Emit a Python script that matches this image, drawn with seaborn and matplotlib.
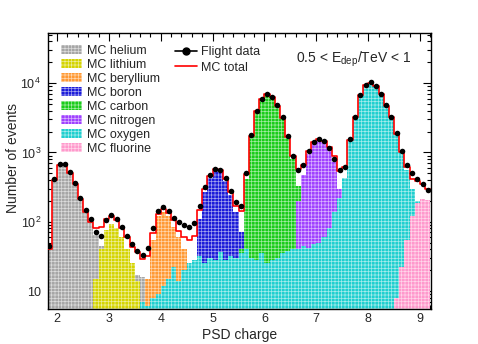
import numpy as np
import pandas as pd
import matplotlib
matplotlib.use("Agg")
import matplotlib.pyplot as plt
import seaborn as sns
from matplotlib.patches import Patch
from matplotlib.lines import Line2D
from matplotlib.ticker import MultipleLocator, LogLocator, FuncFormatter, NullFormatter

# ---------------- data (bins of 0.1 in PSD charge, 1.8 .. 9.2) ----------------
charge_range = (1.8, 9.2)
n_bins = 74
centers = np.round(np.linspace(1.85, 9.15, n_bins), 3)

flight_data = [
    45, 420, 680, 680, 530, 360, 220, 150, 110, 72,          # 1.85-2.75
    62, 105, 125, 110, 85, 62, 48, 38, 33, 42,               # 2.85-3.75
    80, 145, 165, 145, 115, 100, 90, 85, 95, 170,            # 3.85-4.75
    320, 480, 580, 560, 430, 280, 190, 170, 500, 1800,       # 4.85-5.75
    4000, 6000, 7000, 6300, 4800, 3200, 1700, 900, 560, 650, # 5.85-6.75
    1050, 1400, 1550, 1450, 1150, 800, 560, 620, 1550, 3300, # 6.85-7.75
    6800, 9500, 10500, 9200, 7000, 4800, 3300, 1900, 1050, 650,  # 7.85-8.75
    500, 420, 350, 290]                                      # 8.85-9.15

mc_helium = [
    40, 400, 650, 650, 510, 345, 210, 140, 100, 65,
    45, 35, 28, 24, 22, 20, 18, 17, 16, 9,
    5, 0, 0, 0, 0, 0, 0, 0, 0, 0,
    0, 0, 0, 0, 0, 0, 0, 0, 0, 0,
    0, 0, 0, 0, 0, 0, 0, 0, 0, 0,
    0, 0, 0, 0, 0, 0, 0, 0, 0, 0,
    0, 0, 0, 0, 0, 0, 0, 0, 0, 0,
    0, 0, 0, 0]

mc_lithium = [
    0, 0, 0, 0, 0, 0, 0, 0, 0, 15,
    40, 75, 92, 82, 60, 40, 25, 14, 6, 2,
    0, 0, 0, 0, 0, 0, 0, 0, 0, 0,
    0, 0, 0, 0, 0, 0, 0, 0, 0, 0,
    0, 0, 0, 0, 0, 0, 0, 0, 0, 0,
    0, 0, 0, 0, 0, 0, 0, 0, 0, 0,
    0, 0, 0, 0, 0, 0, 0, 0, 0, 0,
    0, 0, 0, 0]

mc_beryllium = [
    0, 0, 0, 0, 0, 0, 0, 0, 0, 0,
    0, 0, 0, 0, 0, 0, 0, 0, 0, 15,
    55, 120, 140, 120, 85, 60, 40, 22, 10, 4,
    0, 0, 0, 0, 0, 0, 0, 0, 0, 0,
    0, 0, 0, 0, 0, 0, 0, 0, 0, 0,
    0, 0, 0, 0, 0, 0, 0, 0, 0, 0,
    0, 0, 0, 0, 0, 0, 0, 0, 0, 0,
    0, 0, 0, 0]

mc_boron = [
    0, 0, 0, 0, 0, 0, 0, 0, 0, 0,
    0, 0, 0, 0, 0, 0, 0, 0, 0, 0,
    0, 0, 0, 0, 0, 0, 0, 8, 25, 110,
    270, 430, 540, 520, 390, 240, 140, 70, 30, 14,
    7, 3, 0, 0, 0, 0, 0, 0, 0, 0,
    0, 0, 0, 0, 0, 0, 0, 0, 0, 0,
    0, 0, 0, 0, 0, 0, 0, 0, 0, 0,
    0, 0, 0, 0]

mc_carbon = [
    0, 0, 0, 0, 0, 0, 0, 0, 0, 0,
    0, 0, 0, 0, 0, 0, 0, 0, 0, 0,
    0, 0, 0, 0, 0, 0, 0, 0, 0, 0,
    0, 0, 0, 0, 0, 0, 0, 40, 420, 1700,
    3900, 5900, 6900, 6200, 4700, 3100, 1600, 800, 330, 130,
    55, 30, 22, 18, 16, 14, 13, 12, 11, 10,
    9, 8, 7, 6, 0, 0, 0, 0, 0, 0,
    0, 0, 0, 0]

mc_nitrogen = [
    0, 0, 0, 0, 0, 0, 0, 0, 0, 0,
    0, 0, 0, 0, 0, 0, 0, 0, 0, 0,
    0, 0, 0, 0, 0, 0, 0, 0, 0, 0,
    0, 0, 0, 0, 0, 0, 0, 0, 0, 0,
    0, 0, 0, 0, 0, 0, 8, 40, 200, 480,
    950, 1330, 1500, 1400, 1100, 740, 300, 180, 70, 35,
    20, 15, 12, 10, 9, 8, 0, 0, 0, 0,
    0, 0, 0, 0]

mc_oxygen = [
    0, 0, 0, 0, 0, 0, 0, 0, 0, 0,
    0, 0, 0, 0, 0, 0, 0, 5, 7, 6,
    8, 9, 12, 15, 22, 14, 20, 25, 28, 32,
    25, 30, 28, 36, 28, 32, 30, 35, 40, 30,
    28, 35, 25, 28, 30, 35, 38, 40, 40, 45,
    42, 48, 50, 60, 80, 140, 220, 430, 1450, 3200,
    6700, 9400, 10200, 9100, 6900, 4700, 3200, 1850, 1000, 560,
    300, 200, 130, 90]

mc_fluorine = [
    0, 0, 0, 0, 0, 0, 0, 0, 0, 0,
    0, 0, 0, 0, 0, 0, 0, 0, 0, 0,
    0, 0, 0, 0, 0, 0, 0, 0, 0, 0,
    0, 0, 0, 0, 0, 0, 0, 0, 0, 0,
    0, 0, 0, 0, 0, 0, 0, 0, 0, 0,
    0, 0, 0, 0, 0, 0, 0, 0, 0, 0,
    0, 0, 0, 0, 0, 0, 3, 8, 22, 55,
    120, 185, 215, 205]

species_labels = ["MC helium", "MC lithium", "MC beryllium", "MC boron",
                  "MC carbon", "MC nitrogen", "MC oxygen", "MC fluorine"]
species_values = [mc_helium, mc_lithium, mc_beryllium, mc_boron,
                  mc_carbon, mc_nitrogen, mc_oxygen, mc_fluorine]
species_colors = ["#a6a6a6", "#d4d400", "#ff9933", "#1a1ad9",
                  "#19cc19", "#9f40ff", "#1fcfcf", "#ff99cc"]

mc_total = np.sum(np.array(species_values, dtype=float), axis=0)

# ---------------- style ----------------
sns.set_theme(style="ticks")
plt.rcParams["font.family"] = ["Liberation Sans", "DejaVu Sans"]
plt.rcParams["mathtext.fontset"] = "custom"
plt.rcParams["mathtext.rm"] = "Liberation Sans"
plt.rcParams["mathtext.it"] = "Liberation Sans:italic"
plt.rcParams["mathtext.bf"] = "Liberation Sans:bold"
plt.rcParams["hatch.linewidth"] = 0.5

fig = plt.figure(figsize=(4.78, 3.44), dpi=100)
ax = fig.add_axes([48 / 478, 35 / 344, 383 / 478, 276 / 344])

HATCH = "+++++"
HATCH_COLOR = (1, 1, 1, 0.6)
for vals, col in zip(species_values, species_colors):
    df = pd.DataFrame({"charge": centers, "events": np.asarray(vals, dtype=float)})
    sns.histplot(data=df, x="charge", weights="events", bins=n_bins,
                 binrange=charge_range, element="step", fill=True, color=col,
                 alpha=1.0, linewidth=0, ax=ax)
    coll = ax.collections[-1]
    coll.set_facecolor(col)
    coll.set_edgecolor(HATCH_COLOR)
    coll.set_hatch(HATCH)
    coll.set_linewidth(0)

df_tot = pd.DataFrame({"charge": centers, "events": mc_total})
sns.histplot(data=df_tot, x="charge", weights="events", bins=n_bins,
             binrange=charge_range, element="step", fill=False, color="#ff0000",
             linewidth=1.2, ax=ax, zorder=3)

df_data = pd.DataFrame({"charge": centers, "events": np.asarray(flight_data, dtype=float)})
sns.scatterplot(data=df_data, x="charge", y="events", color="black", s=16,
                linewidth=0, ax=ax, zorder=4, legend=False)

ax.set_yscale("log")
ax.set_xlim(1.826, 9.212)
ax.set_ylim(5.5, 5.3e4)

ax.xaxis.set_major_locator(MultipleLocator(1))
ax.xaxis.set_minor_locator(MultipleLocator(0.2))
ax.yaxis.set_major_locator(LogLocator(base=10, numticks=10))
ax.yaxis.set_minor_locator(LogLocator(base=10, subs=np.arange(2, 10), numticks=20))
ax.yaxis.set_minor_formatter(NullFormatter())


def yfmt(v, pos):
    e = int(round(np.log10(v)))
    return "10" if e == 1 else "$10^{%d}$" % e


ax.yaxis.set_major_formatter(FuncFormatter(yfmt))
ax.tick_params(which="both", direction="in", top=True, right=True,
               color="black", labelsize=9, width=0.8)
ax.tick_params(which="major", length=6)
ax.tick_params(which="minor", length=3)
ax.tick_params(axis="x", pad=3)
ax.tick_params(axis="y", pad=5)
for sp in ax.spines.values():
    sp.set_linewidth(1.0)
    sp.set_color("black")

ax.set_xlabel("PSD charge", fontsize=10)
ax.xaxis.set_label_coords(0.5, -0.094)
ax.xaxis.label.set_verticalalignment("center")
ax.set_ylabel("Number of events", fontsize=10)
ax.yaxis.set_label_coords(-0.091, 0.547)
ax.yaxis.label.set_verticalalignment("center")

# legend of MC species
handles1 = [Patch(facecolor=c, edgecolor=HATCH_COLOR, hatch=HATCH, linewidth=0)
            for c in species_colors]
leg1 = fig.legend(handles1, species_labels, loc="upper left",
                  bbox_to_anchor=(61 / 478, 1 - 45 / 344), frameon=False,
                  fontsize=9, borderpad=0, borderaxespad=0, labelspacing=0.16,
                  handlelength=1.7, handleheight=0.75, handletextpad=0.4)

handles2 = [Line2D([0], [0], color="black", marker="o", markersize=5, lw=1.2),
            Line2D([0], [0], color="#ff0000", lw=1.2)]
leg2 = fig.legend(handles2, ["Flight data", "MC total"], loc="upper left",
                  bbox_to_anchor=(175 / 478, 1 - 46 / 344), frameon=False,
                  fontsize=9, borderpad=0, borderaxespad=0, labelspacing=0.3,
                  handlelength=1.75, handletextpad=0.3)

fig.text(296 / 478, 1 - 59 / 344, r"0.5 < E$_{\mathregular{dep}}$/TeV < 1",
         fontsize=10, ha="left", va="center")

fig.savefig("out.png", dpi=100)
